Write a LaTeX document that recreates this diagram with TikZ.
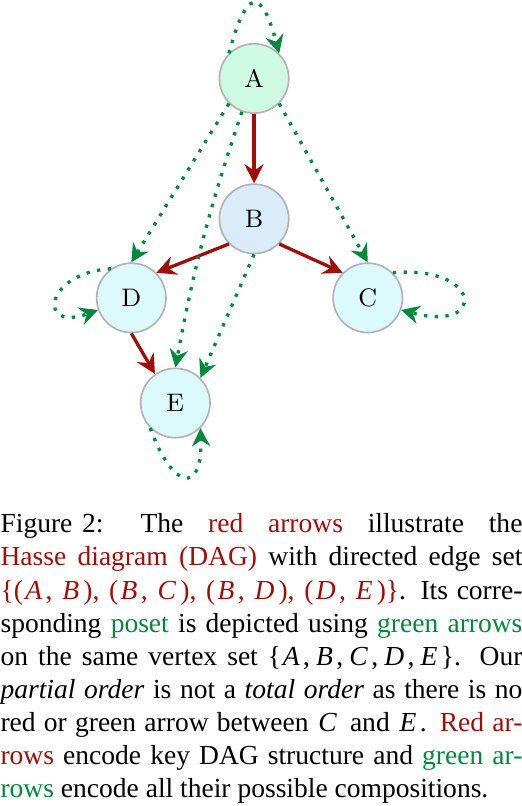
\documentclass[tikz,border=0pt]{standalone}
\usepackage{fontspec}
\usepackage{xcolor}
\usepackage{tikz}
\usetikzlibrary{arrows.meta}

\newfontfamily\capfont{Liberation Serif}

\definecolor{nodeA}{RGB}{206,250,228}
\definecolor{nodeB}{RGB}{218,235,250}
\definecolor{nodeL}{RGB}{220,249,252}
\definecolor{dagred}{RGB}{160,14,10}
\definecolor{posetgreen}{RGB}{0,136,60}

% italic vertex letter with a little math-like spacing
\newcommand{\mv}[1]{\kern0.6pt\textit{#1}\kern1.2pt}
\newcommand{\pr}[2]{(\kern0.3pt\mv{#1},\kern3pt\mv{#2}\kern0.3pt)}

\begin{document}
\begin{tikzpicture}[x=1pt, y=1pt,
    vertex/.style={circle, draw=black!30, line width=0.6pt, minimum size=25.2pt, inner sep=0pt,
        font=\fontsize{9.2}{11}\selectfont},
    hasse/.style={draw=dagred, line width=1.2pt, -{Stealth[length=7pt, width=7pt, inset=2.4pt]}},
    poset/.style={draw=posetgreen, line width=1.2pt, dash pattern=on 1.2pt off 2.7pt,
        -{Stealth[length=6.6pt, width=6.6pt, inset=2.2pt]}},
    captext/.style={anchor=base west, inner sep=0pt, text width=189.6pt, align=justify,
        font=\capfont\fontsize{10}{12}\selectfont}]

    % --- Frame ---
    \useasboundingbox (0,0) rectangle (189.6,-292.8);

    % --- Vertices ---
    \node[vertex, fill=nodeA] (A) at (92.3,-28.5) {A};
    \node[vertex, fill=nodeB] (B) at (92.3,-79.5) {B};
    \node[vertex, fill=nodeL] (D) at (47.7,-108.2) {D};
    \node[vertex, fill=nodeL] (C) at (133.6,-108.2) {C};
    \node[vertex, fill=nodeL] (E) at (63.7,-146.4) {E};

    % --- Hasse diagram (red) ---
    \draw[hasse] (A) -- (B);
    \draw[hasse] (B.south west) -- (D.north east);
    \draw[hasse] (B.south east) -- (C.north west);
    \draw[hasse] (D.south) -- (E.125);

    % --- Poset (green, dotted) ---
    % 1. Composed edges
    \draw[poset] (A.south west) -- (D.north);
    \draw[poset] (A.south east) -- (C.north);
    \draw[poset] (A.250) to[bend right=4] (E.north);
    \draw[poset] (B.south) -- (E.north east);

    % 2. Reflexive loops
    \draw[poset] (A.north west) to[out=75, in=105, looseness=3.5] (A.north east);
    \draw[poset] (D.125) to[out=183, in=200, looseness=3.9] (D.200);
    \draw[poset] (C.north east) to[out=5, in=345, looseness=6] (C.340);
    \draw[poset] (E.south west) to[out=290, in=272, looseness=3.4] (E.south east);

    % --- Caption ---
    \node[captext] (cap) at (0,-193.6) {\tolerance=10000\hbadness=10000\hyphenpenalty=10000
        \mbox{Figure\hspace{3.5pt}2:}\hspace{4.5pt} The \textcolor{dagred}{red arrows} illustrate the\linebreak
        \textcolor{dagred}{Hasse diagram (DAG)} with directed edge set\linebreak
        \textcolor{dagred}{\{\pr{A}{B},\kern3.5pt\pr{B}{C},\kern3.5pt\pr{B}{D},\kern3.5pt\pr{D}{E}\}}\@. Its corre-\linebreak
        sponding \textcolor{posetgreen}{poset} is depicted using \textcolor{posetgreen}{green arrows}\linebreak
        on the same vertex set \{\mv{A},\,\mv{B},\,\mv{C},\,\mv{D},\,\mv{E}\}\@. Our\linebreak
        \textit{partial order} is not a \textit{total order} as there is no\linebreak
        red or green arrow between \mv{C}\kern0.5pt{} and \mv{E}\@. \textcolor{dagred}{Red ar-}\linebreak
        \textcolor{dagred}{rows} encode key DAG structure and \textcolor{posetgreen}{green ar-}\linebreak
        \textcolor{posetgreen}{rows} encode all their possible compositions.};

\end{tikzpicture}
\end{document}
